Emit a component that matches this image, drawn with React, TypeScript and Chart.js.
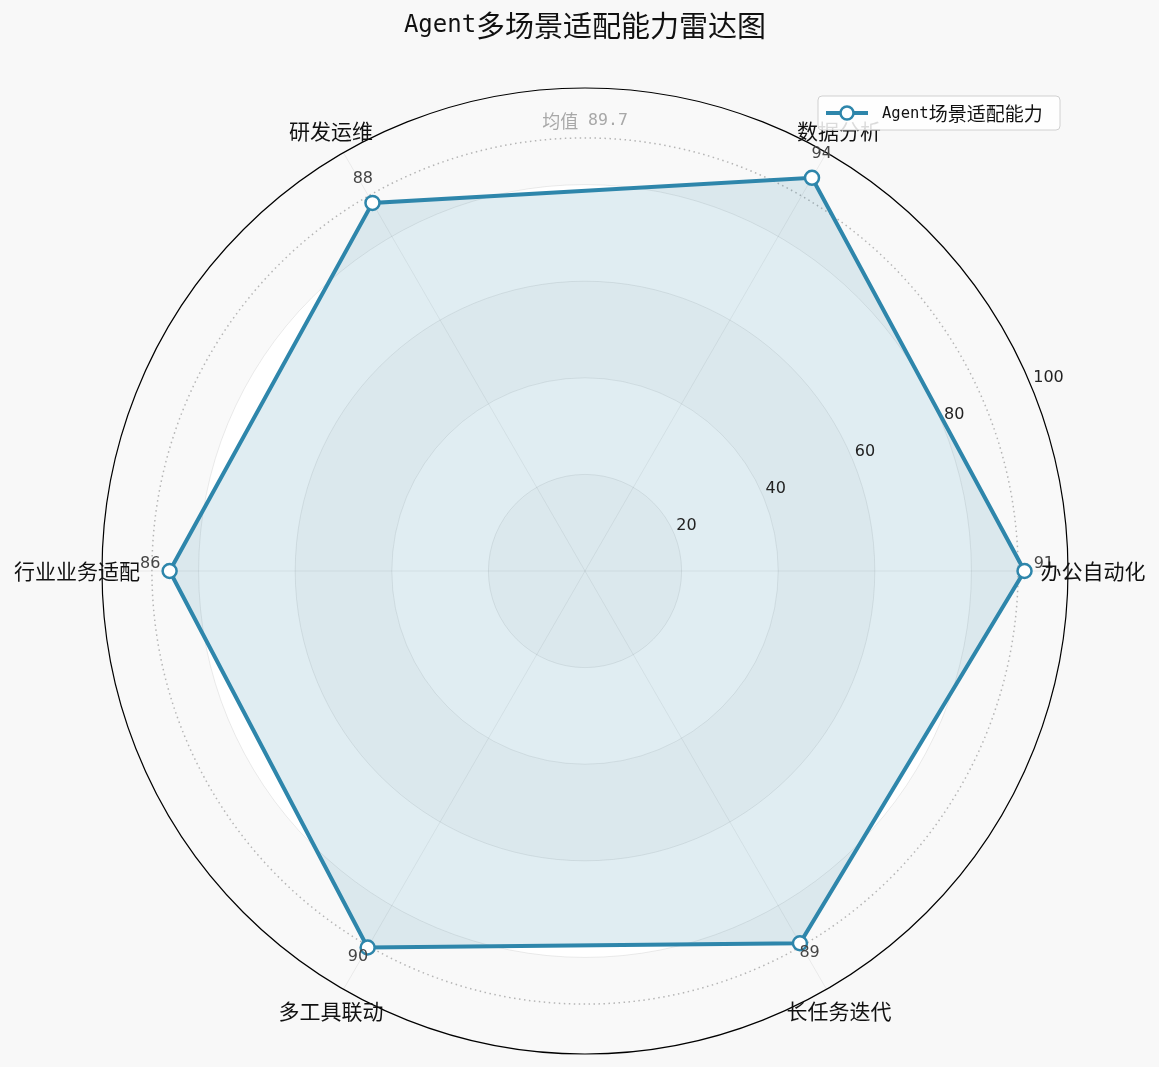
import React, { useEffect, useRef } from "react";
import { Chart, registerables } from "chart.js";

Chart.register(...registerables);

const TITLE = "Agent多场景适配能力雷达图";
const SERIES_NAME = "Agent场景适配能力";
// categories in counter-clockwise order starting from the right (0°)
const categories = ["办公自动化", "数据分析", "研发运维", "行业业务适配", "多工具联动", "长任务迭代"];
const scores = [91, 94, 88, 86, 90, 89];
const radialTicks = [20, 40, 60, 80, 100];
const MEAN_LABEL = "均值";

const LINE_COLOR = "#2E86AB";
const FILL_COLOR = "rgba(46,134,171,0.15)";
const CJK_FONT = '"Noto Sans CJK SC", sans-serif';
const MONO_FONT = '"DejaVu Sans Mono", monospace';

const isCJK = (ch: string) => /[\u2E80-\u9FFF\uFF00-\uFFEF]/.test(ch);

function drawMixed(
  ctx: CanvasRenderingContext2D,
  text: string,
  x: number,
  y: number,
  cjkSize: number,
  latinSize: number,
  align: "left" | "center"
) {
  const runs: { t: string; cjk: boolean }[] = [];
  for (const ch of text) {
    const c = isCJK(ch);
    if (runs.length && runs[runs.length - 1].cjk === c) runs[runs.length - 1].t += ch;
    else runs.push({ t: ch, cjk: c });
  }
  const fontOf = (r: { cjk: boolean }) =>
    r.cjk ? `${cjkSize}px ${CJK_FONT}` : `${latinSize}px ${MONO_FONT}`;
  let total = 0;
  const widths = runs.map((r) => {
    ctx.font = fontOf(r);
    const w = ctx.measureText(r.t).width;
    total += w;
    return w;
  });
  let cx = align === "center" ? x - total / 2 : x;
  ctx.textAlign = "left";
  ctx.textBaseline = "middle";
  runs.forEach((r, i) => {
    ctx.font = fontOf(r);
    ctx.fillText(r.t, cx, y);
    cx += widths[i];
  });
}

export default function App() {
  const ref = useRef<HTMLCanvasElement>(null);

  useEffect(() => {
    document.body.style.background = "#f8f8f8";
    const canvas = ref.current;
    if (!canvas) return;

    // Chart.js goes clockwise from the start angle; the reference goes counter-clockwise
    const order = [0, 5, 4, 3, 2, 1];
    const labels = order.map((i) => categories[i]);
    const data = order.map((i) => scores[i]);
    const mean = scores.reduce((a, b) => a + b, 0) / scores.length;

    const deco = {
      id: "deco",
      beforeDraw(chart: any) {
        const s = chart.scales.r;
        const ctx = chart.ctx;
        const cx = s.xCenter;
        const cy = s.yCenter;
        ctx.save();
        ctx.beginPath();
        ctx.arc(cx, cy, s.getDistanceFromCenterForValue(100), 0, Math.PI * 2);
        ctx.fillStyle = "#ffffff";
        ctx.fill();
        const bands = [
          [0, 20],
          [40, 60],
          [80, 100],
        ];
        ctx.fillStyle = "rgba(0,0,0,0.025)";
        bands.forEach(([a, b]) => {
          ctx.beginPath();
          ctx.arc(cx, cy, s.getDistanceFromCenterForValue(b), 0, Math.PI * 2);
          if (a > 0) ctx.arc(cx, cy, s.getDistanceFromCenterForValue(a), 0, Math.PI * 2, true);
          ctx.fill("evenodd");
        });
        ctx.restore();
      },
      beforeDatasetsDraw(chart: any) {
        const s = chart.scales.r;
        const ctx = chart.ctx;
        const d = s.getDistanceFromCenterForValue(mean);
        ctx.save();
        ctx.beginPath();
        ctx.setLineDash([1.5, 3.5]);
        ctx.strokeStyle = "#b5b5b5";
        ctx.lineWidth = 1.5;
        ctx.arc(s.xCenter, s.yCenter, d, 0, Math.PI * 2);
        ctx.stroke();
        ctx.setLineDash([]);
        ctx.fillStyle = "#a8a8a8";
        drawMixed(ctx, `${MEAN_LABEL} ${mean.toFixed(1)}`, s.xCenter, s.yCenter - d - 17, 18, 16.5, "center");
        ctx.restore();
      },
      afterDraw(chart: any) {
        const s = chart.scales.r;
        const ctx = chart.ctx;
        ctx.save();
        // radial tick labels at 22.5°
        const ang = (22.5 * Math.PI) / 180;
        ctx.fillStyle = "#222";
        ctx.font = `16px "DejaVu Sans", sans-serif`;
        ctx.textAlign = "left";
        ctx.textBaseline = "middle";
        radialTicks.forEach((v) => {
          const dd = s.getDistanceFromCenterForValue(v);
          const x = s.xCenter + dd * Math.cos(ang);
          const y = s.yCenter - dd * Math.sin(ang);
          ctx.fillText(String(v), x + 2, y - 8);
        });
        // value labels
        ctx.fillStyle = "#444";
        ctx.font = `16px "DejaVu Sans", sans-serif`;
        ctx.textAlign = "center";
        data.forEach((v, i) => {
          const p = s.getPointPositionForValue(i, v + 4);
          ctx.fillText(String(v), p.x, p.y - 7);
        });
        // category labels
        ctx.fillStyle = "#111";
        ctx.font = `21px ${CJK_FONT}`;
        labels.forEach((lab, i) => {
          const p = s.getPointPosition(i, s.getDistanceFromCenterForValue(100) + 25);
          ctx.fillText(lab, p.x, p.y);
        });
        // title
        ctx.fillStyle = "#111";
        drawMixed(ctx, TITLE, s.xCenter, 18, 29, 24, "center");
        // legend
        const lx = 810, ly = 88, lw = 242, lh = 34;
        ctx.beginPath();
        if ((ctx as any).roundRect) (ctx as any).roundRect(lx, ly, lw, lh, 4);
        else ctx.rect(lx, ly, lw, lh);
        ctx.fillStyle = "rgba(255,255,255,0.85)";
        ctx.fill();
        ctx.strokeStyle = "#d0d0d0";
        ctx.lineWidth = 1;
        ctx.stroke();
        ctx.beginPath();
        ctx.moveTo(818, 105);
        ctx.lineTo(860, 105);
        ctx.strokeStyle = LINE_COLOR;
        ctx.lineWidth = 4;
        ctx.stroke();
        ctx.beginPath();
        ctx.arc(839, 105, 6.5, 0, Math.PI * 2);
        ctx.fillStyle = "#fff";
        ctx.fill();
        ctx.lineWidth = 2.5;
        ctx.stroke();
        ctx.fillStyle = "#111";
        drawMixed(ctx, SERIES_NAME, 874, 106, 19, 15.5, "left");
        ctx.restore();
      },
    };

    const chart = new Chart(canvas, {
      type: "radar",
      data: {
        labels,
        datasets: [
          {
            label: SERIES_NAME,
            data,
            borderColor: LINE_COLOR,
            backgroundColor: FILL_COLOR,
            borderWidth: 4,
            fill: true,
            pointRadius: 7,
            pointBorderWidth: 2.5,
            pointBackgroundColor: "#ffffff",
            pointBorderColor: LINE_COLOR,
            tension: 0,
          },
        ],
      },
      options: {
        animation: false,
        responsive: true,
        maintainAspectRatio: false,
        layout: { padding: { left: 94, right: 83, top: 80, bottom: 5 } },
        plugins: {
          legend: { display: false },
          title: { display: false },
          tooltip: { enabled: false },
        },
        scales: {
          r: {
            min: 0,
            max: 100,
            startAngle: 90,
            ticks: { display: false, stepSize: 20 },
            pointLabels: { display: false },
            grid: {
              circular: true,
              color: (c: any) => (c.tick && c.tick.value === 100 ? "#000000" : "rgba(0,0,0,0.09)"),
              lineWidth: (c: any) => (c.tick && c.tick.value === 100 ? 1.2 : 0.9),
            },
            angleLines: { color: "rgba(0,0,0,0.07)", lineWidth: 0.9 },
          },
        },
      },
      plugins: [deco],
    });

    return () => chart.destroy();
  }, []);

  return (
    <div style={{ width: 1143, height: 1051, position: "relative" }}>
      <canvas ref={ref} />
    </div>
  );
}
